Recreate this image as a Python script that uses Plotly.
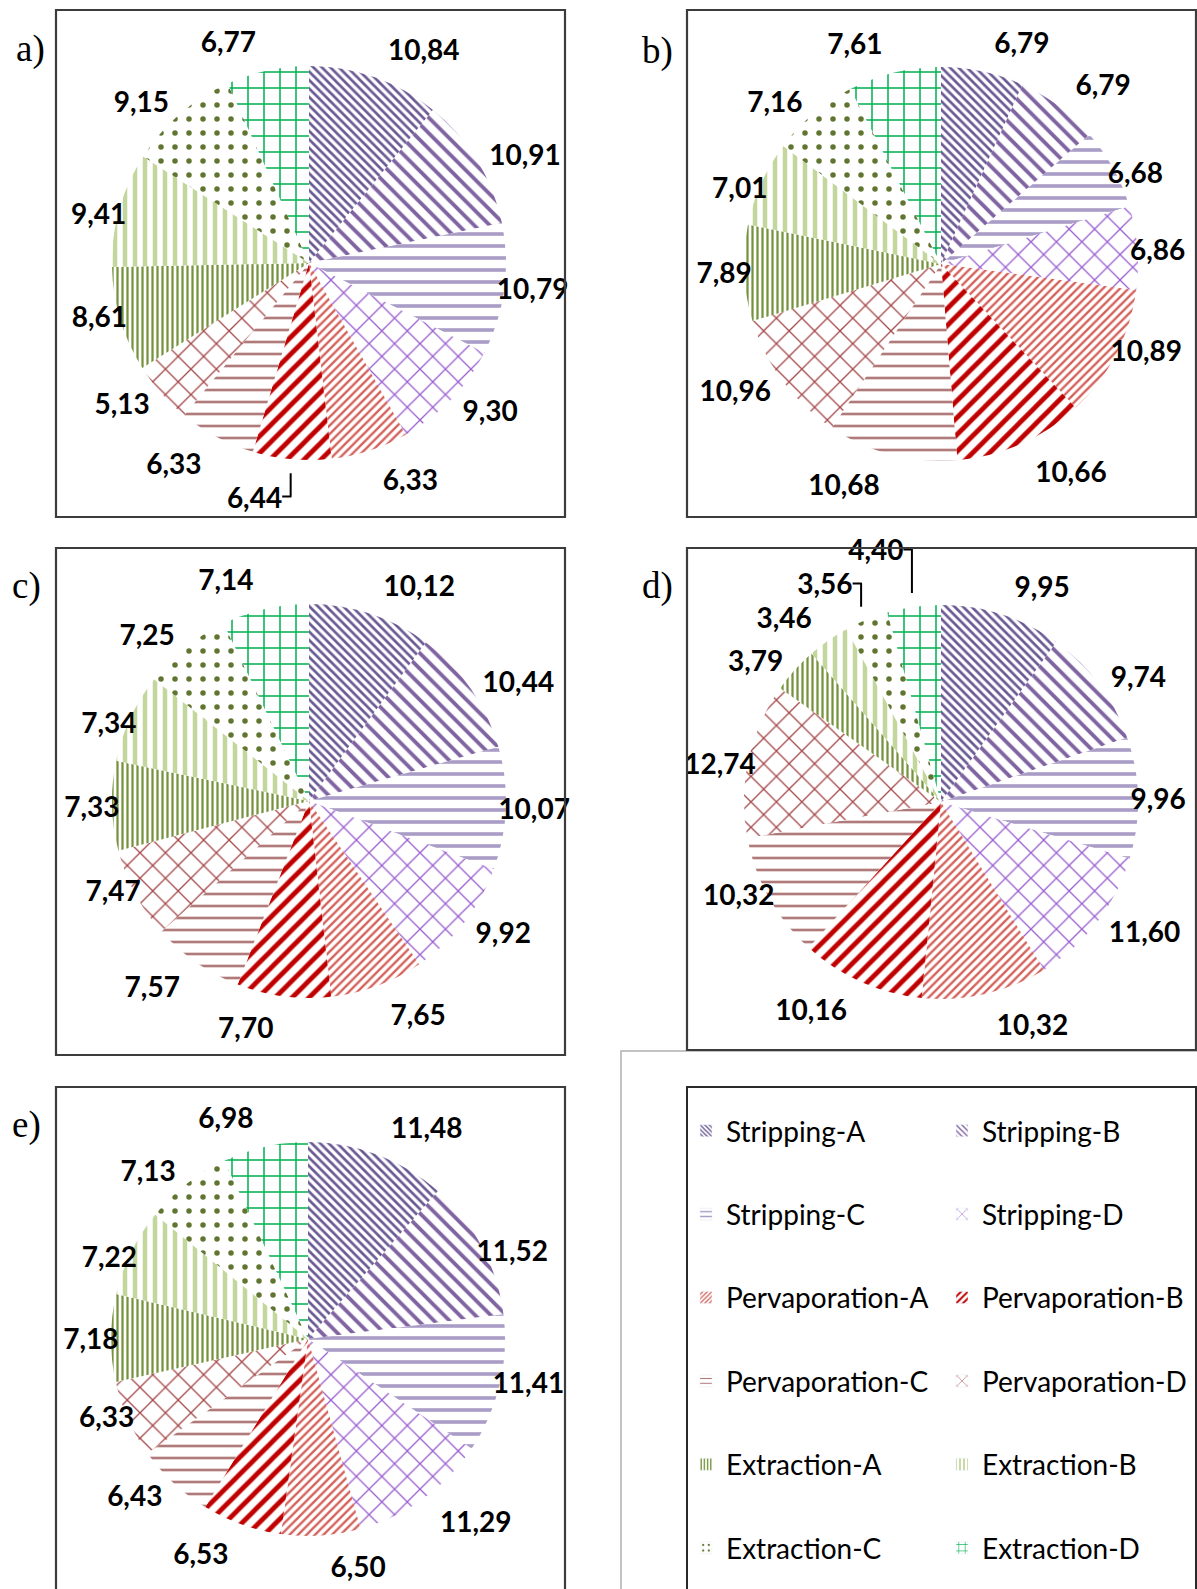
import math
import plotly.graph_objects as go

W, H = 1197, 1589

categories = ["Stripping-A", "Stripping-B", "Stripping-C", "Stripping-D",
              "Pervaporation-A", "Pervaporation-B", "Pervaporation-C", "Pervaporation-D",
              "Extraction-A", "Extraction-B", "Extraction-C", "Extraction-D"]

values_a = [10.84, 10.91, 10.79, 9.30, 6.33, 6.44, 6.33, 5.13, 8.61, 9.41, 9.15, 6.77]
values_b = [6.79, 6.79, 6.68, 6.86, 10.89, 10.66, 10.68, 10.96, 7.89, 7.01, 7.16, 7.61]
values_c = [10.12, 10.44, 10.07, 9.92, 7.65, 7.70, 7.57, 7.47, 7.33, 7.34, 7.25, 7.14]
values_d = [9.95, 9.74, 9.96, 11.60, 10.32, 10.16, 10.32, 12.74, 3.79, 3.46, 3.56, 4.40]
values_e = [11.48, 11.52, 11.41, 11.29, 6.50, 6.53, 6.43, 6.33, 7.18, 7.22, 7.13, 6.98]

panel_names = ["a)", "b)", "c)", "d)", "e)"]
panel_values = [values_a, values_b, values_c, values_d, values_e]

# pattern styling per category
shapes_p = ["\\", "\\", "-", "x", "/", "/", "-", "x", "|", "|", ".", "+"]
fg = ["#6a5a94", "#8064a2", "#a99cc6", "#9a5fd0", "#d4625c", "#c00000",
      "#b07a7a", "#a5484a", "#76923c", "#c3d69b", "#5f7530", "#00b050"]
psize = [6, 11, 12, 18, 6, 12, 12, 18, 5, 10, 14, 16]
psol = [0.45, 0.35, 0.3, 0.14, 0.4, 0.4, 0.22, 0.14, 0.45, 0.45, 0.12, 0.18]

# panel boxes in pixels (x0, y0, x1, y1)
boxes = [(56, 10, 565, 517), (687, 10, 1196, 517), (56, 548, 565, 1055),
         (687, 548, 1196, 1050), (56, 1087, 565, 1600)]
# pie centers and radius in pixels
centers = [(309, 263), (941, 264), (309, 801), (941, 802), (308, 1339)]
R = 197
# label rings: near-horizontal slices get a tighter ring, like the original layout
LABEL_RINGS = [R - 16, R + 4, R + 14]
label_pos = [(30, 49), (657, 51), (26, 586), (657, 586), (26, 1125)]


def clamp(v):
    return min(1.0, max(0.0, v))


def py(y):
    return 1 - y / H


def dom(cx, cy, r):
    return dict(x=[clamp((cx - r) / W), clamp((cx + r) / W)],
                y=[clamp(py(cy + r)), clamp(py(cy - r))])


def ring_index(vals):
    total = sum(vals)
    out, acc = [], 0.0
    for v in vals:
        mid = (acc + v / 2) / total * 2 * math.pi
        acc += v
        s = abs(math.sin(mid))
        out.append(0 if s > 0.87 else (1 if s > 0.6 else 2))
    return out


fig = go.Figure()

for i, (name, vals) in enumerate(zip(panel_names, panel_values)):
    cx, cy = centers[i]
    # patterned pie
    fig.add_trace(go.Pie(
        labels=categories, values=vals, sort=False, direction="clockwise",
        rotation=0, showlegend=False, name=name, domain=dom(cx, cy, R),
        marker=dict(colors=fg, line=dict(width=0),
                    pattern=dict(shape=shapes_p, fgcolor=fg, bgcolor="white",
                                 size=psize, solidity=psol, fillmode="replace")),
        textinfo="none", hoverinfo="label+value",
    ))
    # value labels on transparent rings
    tiers = ring_index(vals)
    for k, rl in enumerate(LABEL_RINGS):
        txt = [f"{v:.2f}".replace(".", ",") if t == k else "" for v, t in zip(vals, tiers)]
        if not any(txt):
            continue
        fig.add_trace(go.Pie(
            labels=categories, values=vals, sort=False, direction="clockwise",
            rotation=0, showlegend=False, name=name, domain=dom(cx, cy, rl),
            marker=dict(colors=["rgba(0,0,0,0)"] * len(categories), line=dict(width=0)),
            text=txt, textinfo="text", textposition="outside",
            textfont=dict(family="Lato", size=28, color="black", weight="bold"),
            hoverinfo="skip",
        ))

# legend entries (two columns)
for j, cat in enumerate(categories):
    fig.add_trace(go.Bar(
        x=[None], y=[None], name=cat, legendgroup=cat,
        legend="legend" if j % 2 == 0 else "legend2",
        marker=dict(color=fg[j], pattern=dict(shape=shapes_p[j], fgcolor=fg[j], bgcolor="white",
                                              size=max(4, psize[j] // 2), solidity=psol[j],
                                              fillmode="replace")),
        showlegend=True,
    ))

shp = []
for (x0, y0, x1, y1) in boxes:
    shp.append(dict(type="rect", xref="paper", yref="paper", x0=x0 / W, x1=x1 / W,
                    y0=py(y1), y1=py(y0), line=dict(color="#3c3c3c", width=2.2)))
# legend boxes
shp.append(dict(type="rect", xref="paper", yref="paper", x0=621 / W, x1=1205 / W,
                y0=py(1600), y1=py(1051), line=dict(color="#b0b0b0", width=1.5),
                fillcolor="white", layer="below"))
shp.append(dict(type="rect", xref="paper", yref="paper", x0=687 / W, x1=1196 / W,
                y0=py(1600), y1=py(1087), line=dict(color="#2a2a2a", width=2)))

ann = []
for name, (lx, ly) in zip(panel_names, label_pos):
    ann.append(dict(text=name, x=lx / W, y=py(ly), xref="paper", yref="paper",
                    showarrow=False, xanchor="center", yanchor="middle",
                    font=dict(family="Liberation Serif", size=37, color="black")))

legend_common = dict(orientation="v", bgcolor="rgba(0,0,0,0)", borderwidth=0,
                     font=dict(family="Lato", size=28, color="black"),
                     tracegroupgap=44, itemwidth=30, xanchor="left", yanchor="top",
                     traceorder="grouped")

fig.update_layout(
    width=W, height=H, margin=dict(l=0, r=0, t=0, b=0, autoexpand=False),
    paper_bgcolor="white", plot_bgcolor="white",
    separators=", ",
    xaxis=dict(visible=False), yaxis=dict(visible=False),
    shapes=shp, annotations=ann,
    legend=dict(x=686 / W, y=py(1106), **legend_common),
    legend2=dict(x=942 / W, y=py(1106), **legend_common),
)

fig.write_html("out.html", config={"displayModeBar": False},
               post_script="document.body.style.margin='0';document.body.style.overflow='hidden';")
